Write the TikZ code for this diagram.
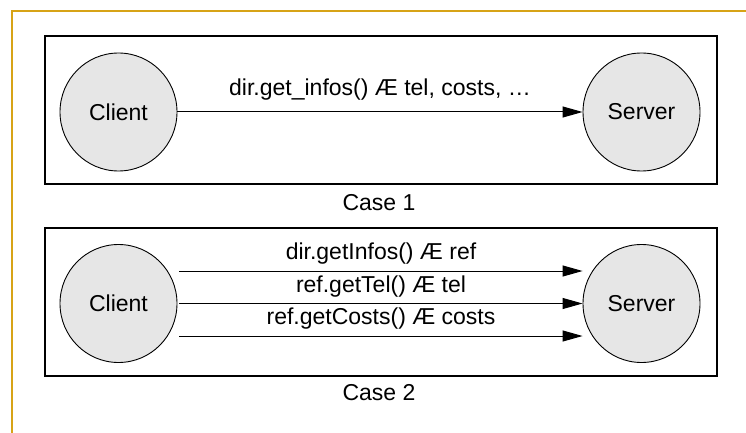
\documentclass[tikz,border=0pt]{standalone}
\usepackage{fontspec}
\setmainfont{Liberation Sans}
\usetikzlibrary{arrows.meta,shapes.geometric}
\definecolor{framegold}{RGB}{215,163,22}
\definecolor{nodegray}{RGB}{230,230,230}
\begin{document}
\begin{tikzpicture}[x=1pt,y=-1pt,
  every node/.style={font=\fontsize{23}{26}\selectfont},
  party/.style={ellipse, draw, line width=0.9pt, fill=nodegray,
    minimum width=117pt, minimum height=118pt, inner sep=0pt},
  casebox/.style={draw, line width=1.1pt, minimum width=672pt,
    minimum height=148pt, inner sep=0pt},
  call/.style={line width=1pt, -{Triangle[length=20pt,width=11pt]}},
  msg/.style={midway, inner sep=0pt}]
\useasboundingbox (0,0) rectangle (746,433);
% outer frame
\draw[framegold, line width=2pt] (12,433) -- (12,11) -- (746,11);

% case 1: a single call
\node[casebox] (box1) at (381,110) {};
\node[party] (client1) at (118.5,112) {Client};
\node[party] (server1) at (641.5,112) {Server};
\draw[call] (client1.east) -- (server1.west)
  node[msg, yshift=22pt] (m1) {dir.get\_infos() Æ tel, costs, …};
\node (case1) at (379,203) {Case 1};

% case 2: three separate calls
\node[casebox] (box2) at (381,302) {};
\node[party] (client2) at (118.5,303.5) {Client};
\node[party] (server2) at (641.5,303.5) {Server};
\draw[call] ([xshift=2pt,yshift=32.5pt]client2.east) -- ([yshift=32.5pt]server2.west)
  node[msg, yshift=17pt] (m2) {dir.getInfos() Æ ref};
\draw[call] ([xshift=2pt]client2.east) -- (server2.west)
  node[msg, yshift=17pt] (m3) {ref.getTel() Æ tel};
\draw[call] ([xshift=2pt,yshift=-32.5pt]client2.east) -- ([yshift=-32.5pt]server2.west)
  node[msg, yshift=17pt] (m4) {ref.getCosts() Æ costs};
\node (case2) at (379,393) {Case 2};
\end{tikzpicture}
\end{document}
